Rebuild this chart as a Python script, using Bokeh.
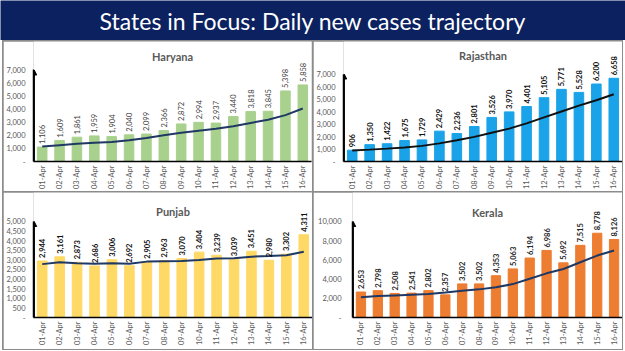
import math
from bokeh.plotting import figure
from bokeh.layouts import column, row
from bokeh.models import FactorRange, Range1d, FixedTicker, NumeralTickFormatter, Arrow, NormalHead, ColumnDataSource
from bokeh.core.properties import value
from bokeh.embed import file_html
from bokeh.resources import INLINE

main_title = "States in Focus: Daily new cases trajectory"
dates = ["01-Apr", "02-Apr", "03-Apr", "04-Apr", "05-Apr", "06-Apr", "07-Apr", "08-Apr",
         "09-Apr", "10-Apr", "11-Apr", "12-Apr", "13-Apr", "14-Apr", "15-Apr", "16-Apr"]

haryana = [1106, 1609, 1861, 1959, 1904, 2040, 2099, 2366, 2872, 2994, 2937, 3440, 3818, 3845, 5398, 5858]
haryana_trend = [1150, 1250, 1350, 1425, 1500, 1625, 1800, 2000, 2200, 2350, 2500, 2700, 2950, 3200, 3550, 4050]
haryana_ticks = [0, 1000, 2000, 3000, 4000, 5000, 6000, 7000]

rajasthan = [906, 1350, 1422, 1675, 1729, 2429, 2236, 2801, 3526, 3970, 4401, 5105, 5771, 5528, 6200, 6658]
rajasthan_trend = [880, 950, 1030, 1120, 1250, 1450, 1700, 1970, 2300, 2630, 3050, 3530, 4000, 4470, 4900, 5380]
rajasthan_ticks = [0, 1000, 2000, 3000, 4000, 5000, 6000, 7000]

punjab = [2944, 3161, 2873, 2686, 3006, 2692, 2905, 2963, 3070, 3404, 3239, 3039, 3451, 2980, 3302, 4311]
punjab_trend = [2780, 2880, 2830, 2800, 2820, 2800, 2910, 2930, 2940, 3000, 3070, 3090, 3170, 3200, 3240, 3420]
punjab_ticks = [0, 500, 1000, 1500, 2000, 2500, 3000, 3500, 4000, 4500, 5000]

kerala = [2653, 2798, 2508, 2541, 2802, 2357, 3502, 3502, 4353, 5063, 6194, 6986, 5692, 7515, 8778, 8126]
kerala_trend = [2100, 2230, 2300, 2370, 2440, 2610, 2790, 2930, 3140, 3480, 4040, 4600, 5050, 5750, 6450, 6970]
kerala_ticks = [0, 2000, 4000, 6000, 8000, 10000]

FONT = "Lato"


def panel(name, vals, trend, ticks, color, trend_color, y_end, title_y, width, height,
          left, right, bottom, label_style, label_color, ystandoff):
    p = figure(width=width, height=height, x_range=FactorRange(*dates, range_padding=0),
               y_range=Range1d(0, y_end), toolbar_location=None, output_backend="svg",
               min_border_left=left, min_border_right=right, min_border_bottom=bottom,
               min_border_top=0)
    p.outline_line_color = None
    p.xgrid.visible = False
    p.ygrid.visible = False
    src = ColumnDataSource(dict(x=dates, v=vals, t=trend, lab=[f"{v:,}" for v in vals]))
    p.vbar(x="x", top="v", width=0.55, color=color, source=src)
    p.line(x="x", y="t", line_width=2, color=trend_color, source=src)
    p.text(x="x", y="v", text="lab", source=src, angle=math.pi / 2, text_align="left",
           text_baseline="middle", y_offset=-3, text_font=value(FONT), text_font_size="7.5px",
           text_font_style=label_style, text_color=label_color)
    p.text(x=[len(dates) / 2], y=[title_y], text=[name], text_align="center", text_baseline="middle",
           text_font=value(FONT), text_font_size="11px", text_font_style="bold", text_color="#595959")
    p.add_layout(Arrow(end=NormalHead(size=5, fill_color="black", line_color="black"),
                       x_start=0.04, y_start=0, x_end=0.04, y_end=ticks[-1], line_width=1.5,
                       line_color="black"))
    ya = p.yaxis[0]
    ya.ticker = FixedTicker(ticks=ticks)
    ya.formatter = NumeralTickFormatter(format="0,0")
    ya.major_label_overrides = {0: "-"}
    ya.bounds = (0, ticks[-1])
    ya.axis_line_color = "black"
    ya.axis_line_width = 1.5
    ya.major_tick_line_color = None
    ya.minor_tick_line_color = None
    ya.major_tick_out = 0
    ya.major_tick_in = 0
    ya.major_label_standoff = ystandoff
    ya.major_label_text_font = FONT
    ya.major_label_text_font_size = "7.5px"
    ya.major_label_text_color = "#595959"
    xa = p.xaxis[0]
    xa.axis_line_color = "black"
    xa.axis_line_width = 1.5
    xa.major_tick_line_color = None
    xa.major_tick_out = 0
    xa.major_tick_in = 0
    xa.major_label_orientation = math.pi / 2
    xa.major_label_standoff = 4
    xa.major_label_text_font = FONT
    xa.major_label_text_font_size = "7.5px"
    xa.major_label_text_color = "#595959"
    return p


pH = panel("Haryana", haryana, haryana_trend, haryana_ticks, "#A9D18E", "#1F3864",
           9180, 8050, 309, 150, 27, 1, 28, "normal", "#404040", 8)
pR = panel("Rajasthan", rajasthan, rajasthan_trend, rajasthan_ticks, "#1AA3E8", "#111111",
           9600, 8500, 309, 150, 29, 0, 28, "bold", "#111111", 8)
pP = panel("Punjab", punjab, punjab_trend, punjab_ticks, "#FFD966", "#1F3864",
           6510, 5520, 309, 157, 27, 0, 32, "bold", "#111111", 8)
pK = panel("Kerala", kerala, kerala_trend, kerala_ticks, "#ED7D31", "#1F3864",
           13020, 10940, 309, 157, 39, 0, 32, "bold", "#262626", 11)

t = figure(width=625, height=40, x_range=(0, 1), y_range=(0, 1), toolbar_location=None,
           output_backend="svg", min_border=0)
t.axis.visible = False
t.grid.visible = False
t.outline_line_color = None
t.background_fill_color = "#0B2160"
t.border_fill_color = "#0B2160"
t.text(x=[0.5], y=[0.5], text=[main_title], text_align="center", text_baseline="middle",
       text_font=value(FONT), text_font_size="23px", text_color="white")

grid = column(row(pH, pR, spacing=1), row(pP, pK, spacing=1), spacing=1,
              styles={"background-color": "#8c8c8c", "padding": "1px"}, margin=(0, 0, 0, 2))
layout = column(t, grid, spacing=0)

open("out.html", "w").write(file_html(layout, INLINE))
